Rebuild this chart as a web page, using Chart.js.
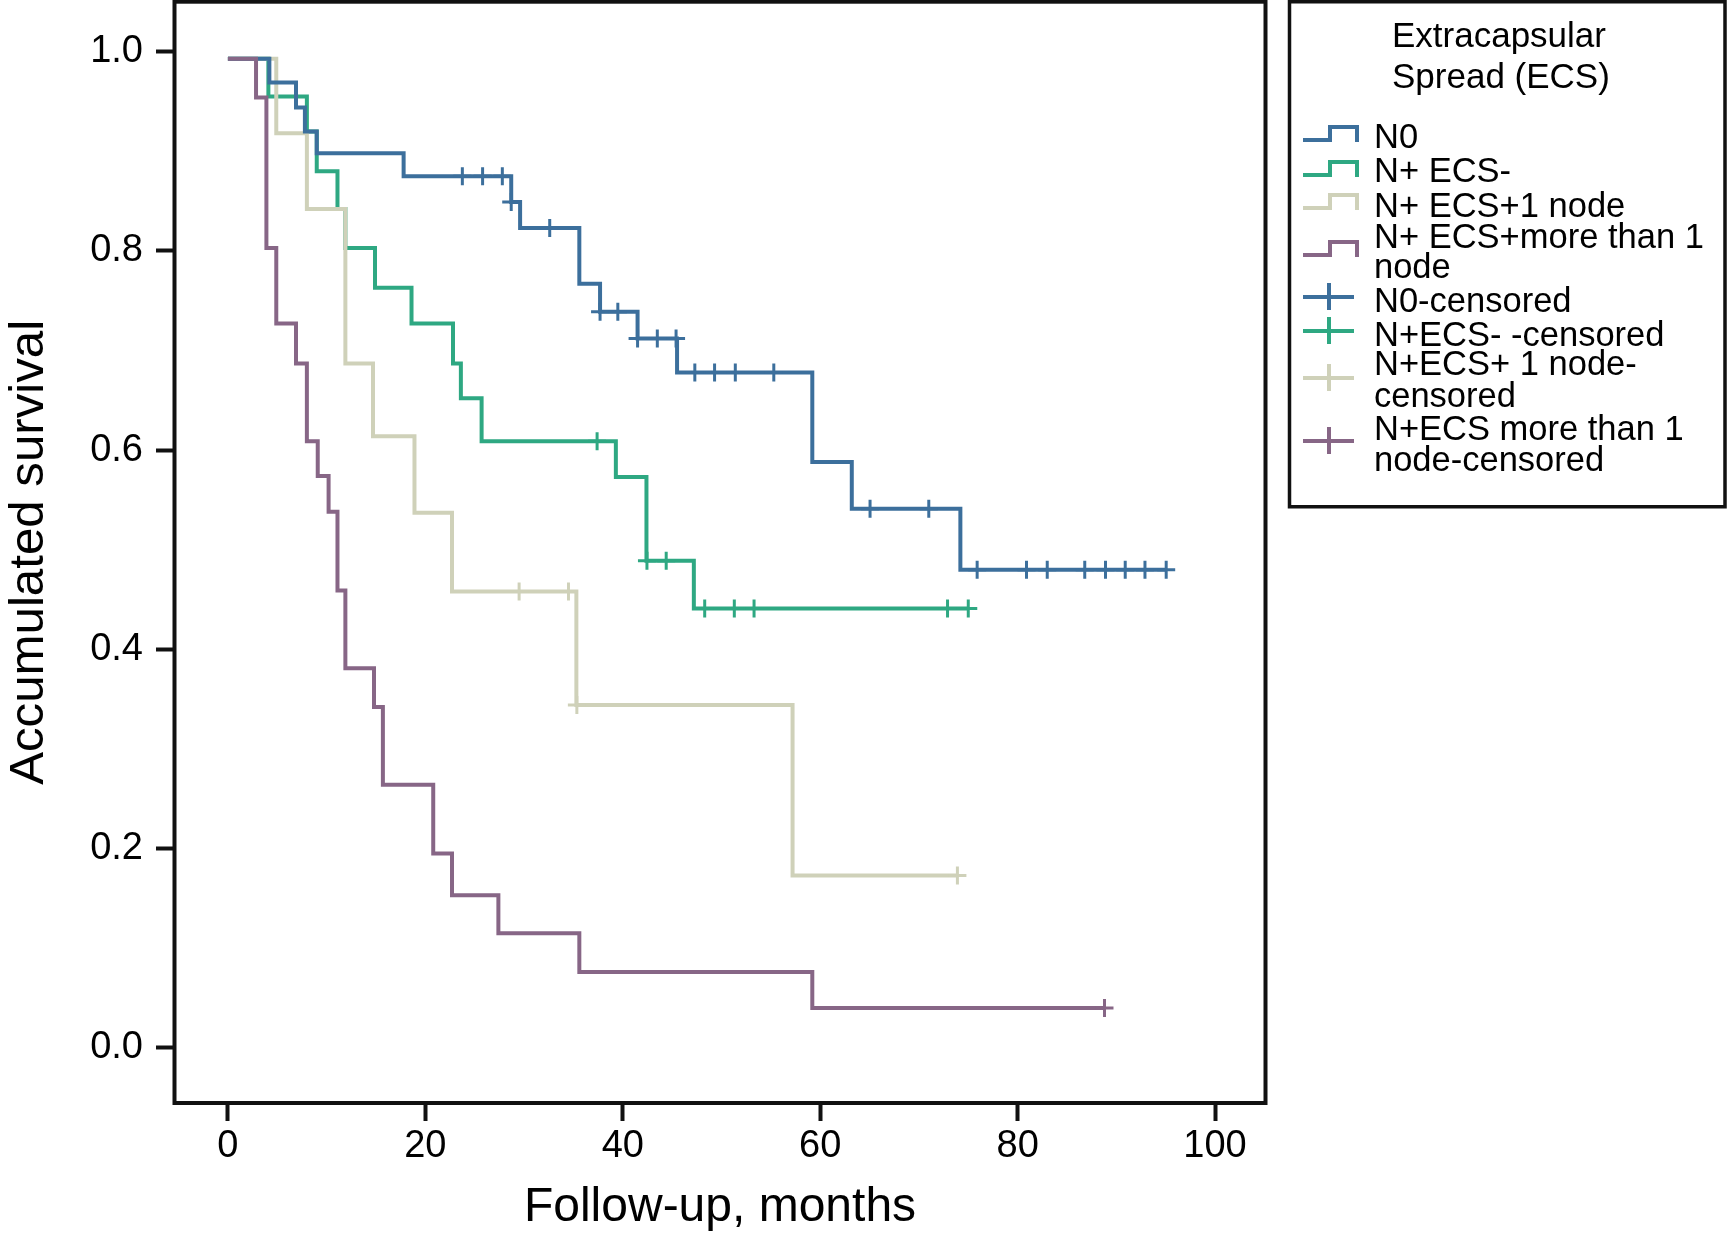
<!DOCTYPE html>
<html>
<head>
<meta charset="utf-8">
<script src="https://cdn.jsdelivr.net/npm/chart.js@4.4.1/dist/chart.umd.min.js"></script>
<style>
  html, body { margin: 0; padding: 0; background: #fff; }
  canvas { display: block; }
</style>
</head>
<body>
<canvas id="km" width="1728" height="1237"></canvas>
<script>
// Kaplan-Meier curves.
// Each *Times entry is the month where the curve steps down to the matching *Surv value.
const n0Times = [0, 4.2, 6.9, 7.8, 9.0, 17.8, 28.7, 29.6, 35.6, 37.7, 41.5, 45.5, 59.2, 63.2, 74.2, 95.05];
const n0Surv  = [0.993, 0.969, 0.944, 0.920, 0.898, 0.875, 0.849, 0.823, 0.767, 0.739, 0.712, 0.678, 0.588, 0.541, 0.480, 0.480];
const n0CensTimes = [23.75, 25.8, 27.8, 28.7, 32.6, 37.7, 39.5, 41.5, 43.5, 45.4, 47.3, 49.3, 51.4, 55.3, 65.05, 71.0, 75.9, 80.9, 83.0, 86.8, 88.9, 90.9, 92.9, 95.05];
const n0CensSurv  = [0.875, 0.875, 0.875, 0.849, 0.823, 0.739, 0.739, 0.712, 0.712, 0.712, 0.678, 0.678, 0.678, 0.678, 0.541, 0.541, 0.480, 0.480, 0.480, 0.480, 0.480, 0.480, 0.480, 0.480];

const ecsNegTimes = [0, 4.1, 8.0, 9.0, 11.1, 11.9, 14.9, 18.6, 22.8, 23.6, 25.7, 39.3, 42.4, 47.2, 75.0];
const ecsNegSurv  = [0.993, 0.955, 0.920, 0.880, 0.842, 0.803, 0.763, 0.727, 0.687, 0.652, 0.609, 0.573, 0.489, 0.441, 0.441];
const ecsNegCensTimes = [37.4, 42.45, 44.4, 48.3, 51.3, 53.3, 72.9, 75.0];
const ecsNegCensSurv  = [0.609, 0.489, 0.489, 0.441, 0.441, 0.441, 0.441, 0.441];

const ecs1Times = [0, 4.9, 8.0, 11.9, 14.7, 18.9, 22.7, 35.3, 57.2, 73.9];
const ecs1Surv  = [0.993, 0.918, 0.842, 0.687, 0.614, 0.537, 0.458, 0.344, 0.173, 0.173];
const ecs1CensTimes = [29.5, 34.5, 35.35, 73.9];
const ecs1CensSurv  = [0.458, 0.458, 0.344, 0.173];

const ecsMoreTimes = [0, 2.85, 3.9, 4.9, 6.9, 8.0, 9.1, 10.2, 11.1, 11.9, 14.8, 15.7, 20.8, 22.7, 27.4, 35.6, 59.2, 88.8];
const ecsMoreSurv  = [0.993, 0.954, 0.803, 0.727, 0.687, 0.609, 0.574, 0.538, 0.459, 0.381, 0.342, 0.264, 0.195, 0.153, 0.115, 0.076, 0.040, 0.040];
const ecsMoreCensTimes = [88.8];
const ecsMoreCensSurv  = [0.040];

const xTicks = [0, 20, 40, 60, 80, 100];
const yTicks = [0, 0.2, 0.4, 0.6, 0.8, 1.0];

const legendTitle = ['Extracapsular', 'Spread (ECS)'];
const legendLabels = [
    ['N0'],
    ['N+ ECS-'],
    ['N+ ECS+1 node'],
    ['N+ ECS+more than 1', 'node'],
    ['N0-censored'],
    ['N+ECS- -censored'],
    ['N+ECS+ 1 node-', 'censored'],
    ['N+ECS more than 1', 'node-censored']
];

const BLUE = '#3c6f9c';
const GREEN = '#2ea882';
const BEIGE = '#cfd1b9';
const PURPLE = '#876686';
const FONT = '"Liberation Sans", Arial, Helvetica, sans-serif';

function points(times, vals) {
    return times.map((t, i) => ({ x: t, y: vals[i] }));
}

function curveSet(label, times, vals, color) {
    return {
        label: label,
        data: points(times, vals),
        showLine: true,
        stepped: 'before',
        borderColor: color,
        borderWidth: 4,
        borderJoinStyle: 'miter',
        borderCapStyle: 'butt',
        pointRadius: 0,
        fill: false
    };
}

function censorSet(label, times, vals, color) {
    return {
        label: label,
        data: points(times, vals),
        showLine: false,
        pointStyle: 'cross',
        pointRadius: 9,
        pointBorderWidth: 3,
        pointBorderColor: color,
        borderColor: color
    };
}

// first dataset is drawn on top
const datasets = [
    censorSet('N+ECS more than 1 node-censored', ecsMoreCensTimes, ecsMoreCensSurv, PURPLE),
    censorSet('N0-censored', n0CensTimes, n0CensSurv, BLUE),
    censorSet('N+ECS+ 1 node-censored', ecs1CensTimes, ecs1CensSurv, BEIGE),
    censorSet('N+ECS- -censored', ecsNegCensTimes, ecsNegCensSurv, GREEN),
    curveSet('N+ ECS+more than 1 node', ecsMoreTimes, ecsMoreSurv, PURPLE),
    curveSet('N0', n0Times, n0Surv, BLUE),
    curveSet('N+ ECS+1 node', ecs1Times, ecs1Surv, BEIGE),
    curveSet('N+ ECS-', ecsNegTimes, ecsNegSurv, GREEN)
];

// frame round the plot, rotated y title, and the legend box
const decorations = {
    id: 'decorations',
    afterDraw(chart) {
        const ctx = chart.ctx;
        const a = chart.chartArea;
        ctx.save();

        ctx.strokeStyle = '#111';
        ctx.lineWidth = 4;
        ctx.strokeRect(a.left, a.top, a.right - a.left, a.bottom - a.top);

        // y axis title, set in a condensed face
        ctx.fillStyle = '#000';
        ctx.font = '49px ' + FONT;
        ctx.textAlign = 'center';
        ctx.textBaseline = 'alphabetic';
        const yTitle = 'Accumulated survival';
        const w = ctx.measureText(yTitle).width;
        ctx.save();
        ctx.translate(43, (a.top + a.bottom) / 2);
        ctx.rotate(-Math.PI / 2);
        ctx.scale(465 / w, 1);
        ctx.fillText(yTitle, 0, 0);
        ctx.restore();

        // legend
        ctx.lineWidth = 3.5;
        ctx.strokeStyle = '#111';
        ctx.strokeRect(1289.5, 1.75, 435.5, 505);

        ctx.textAlign = 'left';
        ctx.font = '35px ' + FONT;
        ctx.fillText(legendTitle[0], 1392, 47);
        ctx.fillText(legendTitle[1], 1392, 88);

        ctx.font = '34.5px ' + FONT;
        const colors = [BLUE, GREEN, BEIGE, PURPLE, BLUE, GREEN, BEIGE, PURPLE];
        const iconY = [140, 175, 208, 255, 297, 331, 378, 441];
        const baselines = [[148], [182], [216.5], [248, 277.5], [311.5], [346], [375, 407], [440, 470.5]];

        legendLabels.forEach((lines, i) => {
            ctx.strokeStyle = colors[i];
            ctx.lineWidth = 4;
            ctx.lineJoin = 'miter';
            ctx.beginPath();
            const y = iconY[i];
            if (i < 4) {
                ctx.moveTo(1303, y);
                ctx.lineTo(1330, y);
                ctx.lineTo(1330, y - 13);
                ctx.lineTo(1357, y - 13);
                ctx.lineTo(1357, y + 2);
            } else {
                ctx.moveTo(1303, y);
                ctx.lineTo(1354, y);
                ctx.moveTo(1329, y - 14);
                ctx.lineTo(1329, y + 13);
            }
            ctx.stroke();
            ctx.fillStyle = '#000';
            lines.forEach((txt, j) => ctx.fillText(txt, 1374, baselines[i][j]));
        });

        ctx.restore();
    }
};

new Chart(document.getElementById('km'), {
    type: 'scatter',
    data: { datasets: datasets },
    options: {
        responsive: false,
        devicePixelRatio: 1,
        animation: false,
        events: [],
        layout: {
            autoPadding: false,
            padding: { left: 0, right: 462.5, top: 1.7, bottom: 0 }
        },
        plugins: {
            legend: { display: false },
            tooltip: { enabled: false }
        },
        scales: {
            x: {
                type: 'linear',
                min: -5.41,
                max: 105.11,
                afterBuildTicks: s => { s.ticks = xTicks.map(v => ({ value: v })); },
                afterFit: s => {
                    s.height = 134;
                    s.paddingLeft = 0;
                    s.paddingRight = 0;
                },
                border: { display: false },
                grid: {
                    drawOnChartArea: false,
                    drawTicks: true,
                    tickLength: 18,
                    tickWidth: 4,
                    tickColor: '#111'
                },
                ticks: {
                    color: '#000',
                    font: { family: FONT, size: 38 },
                    padding: 3,
                    maxRotation: 0,
                    autoSkip: false
                },
                title: {
                    display: true,
                    text: 'Follow-up, months',
                    color: '#000',
                    font: { family: FONT, size: 48, lineHeight: 1 },
                    padding: { top: 0, bottom: 5.5 }
                }
            },
            y: {
                type: 'linear',
                min: -0.0555,
                max: 1.0502,
                afterBuildTicks: s => { s.ticks = yTicks.map(v => ({ value: v })); },
                afterFit: s => {
                    s.width = 174.5;
                    s.paddingTop = 0;
                    s.paddingBottom = 0;
                },
                border: { display: false },
                grid: {
                    drawOnChartArea: false,
                    drawTicks: true,
                    tickLength: 18.5,
                    tickWidth: 4,
                    tickColor: '#111'
                },
                ticks: {
                    color: '#000',
                    font: { family: FONT, size: 38 },
                    padding: 13,
                    callback: v => v.toFixed(1)
                }
            }
        }
    },
    plugins: [decorations]
});
</script>
</body>
</html>
